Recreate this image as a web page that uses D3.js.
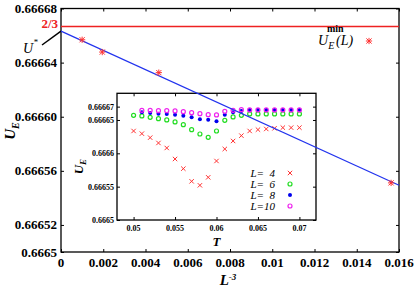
<!DOCTYPE html>
<html>
<head>
<meta charset="utf-8">
<script src="https://cdn.jsdelivr.net/npm/d3@7"></script>
<style>
  body { margin: 0; background: #fff; }
  svg { display: block; font-family: "Liberation Serif", "Times New Roman", serif; }
  .tick-label { font-weight: bold; font-size: 13px; fill: #000; }
  .inset-label { font-weight: bold; font-size: 8px; fill: #000; }
</style>
</head>
<body>
<div id="chart"></div>
<script>
// Main plot data: U_E^min(L) against L^-3
const mainX = [0.001, 0.001953, 0.00463, 0.015625];
const mainY = [0.6666569, 0.6666478, 0.6666326, 0.6665511];

// Linear fit line (blue) and the 2/3 reference
const fitX = [0, 0.016];
const fitY = [0.6666633, 0.6665494];
const twoThirds = 2 / 3;

// Main axis ticks
const mainXTicks = [0, 0.002, 0.004, 0.006, 0.008, 0.01, 0.012, 0.014, 0.016];
const mainXLabels = ["0", "0.002", "0.004", "0.006", "0.008", "0.01", "0.012", "0.014", "0.016"];
const mainYTicks = [0.6665, 0.66652, 0.66656, 0.6666, 0.66664, 0.66668];
const mainYLabels = ["0.6665", "0.66652", "0.66656", "0.66660", "0.66664", "0.66668"];

// Inset data: U_E against T
const tL4 = [0.050, 0.051, 0.052, 0.053, 0.054, 0.055, 0.056, 0.057, 0.058, 0.059, 0.060,
             0.061, 0.062, 0.063, 0.064, 0.065, 0.066, 0.067, 0.068, 0.069, 0.070];
const uL4 = [0.6666335, 0.6666295, 0.6666235, 0.6666155, 0.666608, 0.6665915, 0.666577,
             0.666558, 0.666552, 0.666564, 0.6665885, 0.6666065, 0.6666185, 0.6666265,
             0.6666335, 0.6666355, 0.6666365, 0.6666375, 0.6666385, 0.6666385, 0.6666385];
const tL6 = tL4;
const uL6 = [0.666657, 0.666656, 0.666654, 0.666652, 0.66665, 0.666647, 0.666643,
             0.6666355, 0.666629, 0.666624, 0.6666335, 0.6666495, 0.6666545, 0.666657,
             0.666659, 0.666659, 0.666659, 0.666659, 0.666659, 0.666659, 0.666659];
const tL8 = [0.051, 0.052, 0.053, 0.054, 0.055, 0.056, 0.057, 0.058, 0.059, 0.060,
             0.061, 0.062, 0.063, 0.064, 0.065, 0.066, 0.067, 0.068, 0.069, 0.070];
const uL8 = [0.6666615, 0.6666605, 0.6666595, 0.666659, 0.666658, 0.6666565, 0.666654,
             0.666651, 0.6666505, 0.666648, 0.666658, 0.6666615, 0.6666635,
             0.666665, 0.666665, 0.666665, 0.666665, 0.666665, 0.666665, 0.666665];
const tL10 = tL8;
const uL10 = [0.6666645, 0.6666645, 0.666664, 0.666664, 0.6666635, 0.6666625, 0.666661,
              0.6666595, 0.666658, 0.6666575, 0.666663, 0.6666645, 0.6666655,
              0.666665, 0.666665, 0.666665, 0.666665, 0.666665, 0.666665, 0.666665];

const insetXTicks = [0.05, 0.055, 0.06, 0.065, 0.07];
const insetXLabels = ["0.05", "0.055", "0.06", "0.065", "0.07"];
const insetYTicks = [0.6665, 0.66655, 0.6666, 0.66665, 0.66667];
const insetYLabels = ["0.6665", "0.66655", "0.6666", "0.66665", "0.66667"];

const legendNames = ["4", "6", "8", "10"];

// Sizes
const width = 415, height = 291;
const main = { left: 61, right: 399, top: 8.5, bottom: 252 };
const inset = { left: 117, right: 316, top: 93.3, bottom: 220 };

const svg = d3.select("#chart").append("svg")
  .attr("width", width)
  .attr("height", height);

// Scales
const x = d3.scaleLinear().domain([0, 0.016]).range([main.left, main.right]);
const y = d3.scaleLinear().domain([0.6665, 0.66668]).range([main.bottom, main.top]);
const xi = d3.scaleLinear().domain([0.048, 0.072]).range([inset.left, inset.right]);
const yi = d3.scaleLinear().domain([0.6665, 0.66669]).range([inset.bottom, inset.top]);

// Draw a framed box with inward ticks on all sides
function drawFrame(box, xs, ys, xTicks, yTicks, tickLen) {
  const g = svg.append("g");
  g.append("rect")
    .attr("x", box.left).attr("y", box.top)
    .attr("width", box.right - box.left).attr("height", box.bottom - box.top)
    .attr("fill", "#fff").attr("stroke", "#000").attr("stroke-width", 1.3);
  const axes = [
    d3.axisBottom(xs).tickValues(xTicks).tickSizeInner(-tickLen),
    d3.axisTop(xs).tickValues(xTicks).tickSizeInner(-tickLen),
    d3.axisLeft(ys).tickValues(yTicks).tickSizeInner(-tickLen),
    d3.axisRight(ys).tickValues(yTicks).tickSizeInner(-tickLen)
  ];
  const pos = [
    `translate(0,${box.bottom})`, `translate(0,${box.top})`,
    `translate(${box.left},0)`, `translate(${box.right},0)`
  ];
  axes.forEach((a, i) => {
    const ag = g.append("g").attr("transform", pos[i])
      .call(a.tickSizeOuter(0).tickFormat(""));
    ag.select(".domain").remove();
    ag.selectAll("line").attr("stroke", "#000").attr("stroke-width", 1);
  });
  return g;
}

// Main frame
drawFrame(main, x, y, mainXTicks, mainYTicks, 3);

// Main tick labels
svg.append("g").selectAll("text")
  .data(mainXTicks)
  .enter().append("text")
  .attr("class", "tick-label")
  .attr("x", d => x(d))
  .attr("y", main.bottom + 15)
  .attr("text-anchor", "middle")
  .text((d, i) => mainXLabels[i]);

svg.append("g").selectAll("text")
  .data(mainYTicks)
  .enter().append("text")
  .attr("class", "tick-label")
  .attr("x", main.left - 4)
  .attr("y", d => y(d) + 4.5)
  .attr("text-anchor", "end")
  .text((d, i) => mainYLabels[i]);

// Main axis titles
const yTitle = svg.append("text")
  .attr("transform", "translate(15,131) rotate(-90)")
  .attr("text-anchor", "middle")
  .style("font-weight", "bold").style("font-style", "italic").style("font-size", "15px");
yTitle.append("tspan").text("U");
yTitle.append("tspan").attr("dy", 4).style("font-size", "10px").text("E");

const xTitle = svg.append("text")
  .attr("x", 228).attr("y", 285)
  .attr("text-anchor", "middle")
  .style("font-weight", "bold").style("font-style", "italic").style("font-size", "15px");
xTitle.append("tspan").text("L");
xTitle.append("tspan").attr("dy", -5).style("font-size", "9px").text("-3");

// 2/3 line
svg.append("line")
  .attr("x1", x(0)).attr("x2", x(0.016))
  .attr("y1", y(twoThirds)).attr("y2", y(twoThirds))
  .attr("stroke", "#ee2222").attr("stroke-width", 1.5);

svg.append("text")
  .attr("class", "tick-label")
  .attr("x", main.left - 3).attr("y", y(twoThirds) + 1)
  .attr("text-anchor", "end")
  .style("fill", "#ee2222")
  .text("2/3");

// U* annotation
svg.append("line")
  .attr("x1", 42).attr("y1", 45)
  .attr("x2", x(0)).attr("y2", y(fitY[0]))
  .attr("stroke", "#000").attr("stroke-width", 1.5);
const ustar = svg.append("text")
  .attr("x", 23).attr("y", 53)
  .style("font-style", "italic").style("font-size", "14px");
ustar.append("tspan").text("U");
ustar.append("tspan").attr("dy", -8).style("font-size", "9px").text("*");

// Inset frame
drawFrame(inset, xi, yi, insetXTicks, insetYTicks, 3);

svg.append("g").selectAll("text")
  .data(insetXTicks)
  .enter().append("text")
  .attr("class", "inset-label")
  .attr("x", d => xi(d))
  .attr("y", inset.bottom + 11)
  .attr("text-anchor", "middle")
  .text((d, i) => insetXLabels[i]);

svg.append("g").selectAll("text")
  .data(insetYTicks)
  .enter().append("text")
  .attr("class", "inset-label")
  .attr("x", inset.left - 3)
  .attr("y", d => yi(d) + 3)
  .attr("text-anchor", "end")
  .text((d, i) => insetYLabels[i]);

const yiTitle = svg.append("text")
  .attr("transform", `translate(83,${(inset.top + inset.bottom) / 2 + 10}) rotate(-90)`)
  .attr("text-anchor", "middle")
  .style("font-weight", "bold").style("font-style", "italic").style("font-size", "13px");
yiTitle.append("tspan").text("U");
yiTitle.append("tspan").attr("dy", 3).style("font-size", "9px").text("E");

svg.append("text")
  .attr("x", xi(0.06)).attr("y", 246)
  .attr("text-anchor", "middle")
  .style("font-weight", "bold").style("font-style", "italic").style("font-size", "13px")
  .text("T");

// Marker drawing helpers
function cross(g, cx, cy, r, color) {
  g.append("path")
    .attr("d", `M${cx - r},${cy - r}L${cx + r},${cy + r}M${cx - r},${cy + r}L${cx + r},${cy - r}`)
    .attr("stroke", color).attr("stroke-width", 1).attr("fill", "none");
}
function star(g, cx, cy, r, color) {
  cross(g, cx, cy, r, color);
  g.append("path")
    .attr("d", `M${cx - r * 1.2},${cy}L${cx + r * 1.2},${cy}M${cx},${cy - r * 1.2}L${cx},${cy + r * 1.2}`)
    .attr("stroke", color).attr("stroke-width", 1).attr("fill", "none");
}
function ring(g, cx, cy, r, color) {
  g.append("circle").attr("cx", cx).attr("cy", cy).attr("r", r)
    .attr("fill", "none").attr("stroke", color).attr("stroke-width", 1.2);
}
function dot(g, cx, cy, r, color) {
  g.append("circle").attr("cx", cx).attr("cy", cy).attr("r", r).attr("fill", color);
}

// Inset series
const series = [
  { t: tL4, u: uL4, color: "#ff3333", draw: (g, cx, cy, c) => cross(g, cx, cy, 2.2, c) },
  { t: tL6, u: uL6, color: "#22dd22", draw: (g, cx, cy, c) => ring(g, cx, cy, 2, c) },
  { t: tL8, u: uL8, color: "#0000ee", draw: (g, cx, cy, c) => dot(g, cx, cy, 2, c) },
  { t: tL10, u: uL10, color: "#ee22ee", draw: (g, cx, cy, c) => ring(g, cx, cy, 2, c) }
];
const insetMarks = svg.append("g");
series.forEach(s => {
  s.t.forEach((t, i) => s.draw(insetMarks, xi(t), yi(s.u[i]), s.color));
});

// Inset legend
const legendRows = [177, 188, 199, 210];
series.forEach((s, i) => {
  svg.append("text")
    .attr("x", 275).attr("y", legendRows[i])
    .attr("text-anchor", "end")
    .style("font-style", "italic").style("font-size", "11px")
    .style("white-space", "pre")
    .text(legendNames[i].length === 1 ? "L=  " + legendNames[i] : "L=" + legendNames[i]);
  s.draw(insetMarks, 290, legendRows[i] - 4, s.color);
});

// Fit line (over the inset)
svg.append("line")
  .attr("x1", x(fitX[0])).attr("y1", y(fitY[0]))
  .attr("x2", x(fitX[1])).attr("y2", y(fitY[1]))
  .attr("stroke", "#2233ee").attr("stroke-width", 1.2);

// Main points
const mainMarks = svg.append("g");
mainX.forEach((v, i) => star(mainMarks, x(v), y(mainY[i]), 2.6, "#ff3333"));

// Main legend
const mleg = svg.append("text")
  .attr("x", 318).attr("y", 45)
  .style("font-style", "italic").style("font-size", "14px");
mleg.append("tspan").text("U");
mleg.append("tspan").attr("dy", 4).style("font-size", "10px").text("E");
mleg.append("tspan").attr("x", 327).attr("dy", -17).style("font-size", "10px")
  .style("font-style", "normal").style("font-weight", "bold").text("min");
mleg.append("tspan").attr("x", 336).attr("dy", 13).text("(L)");
star(mainMarks, 369, 41, 2.6, "#ff3333");
</script>
</body>
</html>
